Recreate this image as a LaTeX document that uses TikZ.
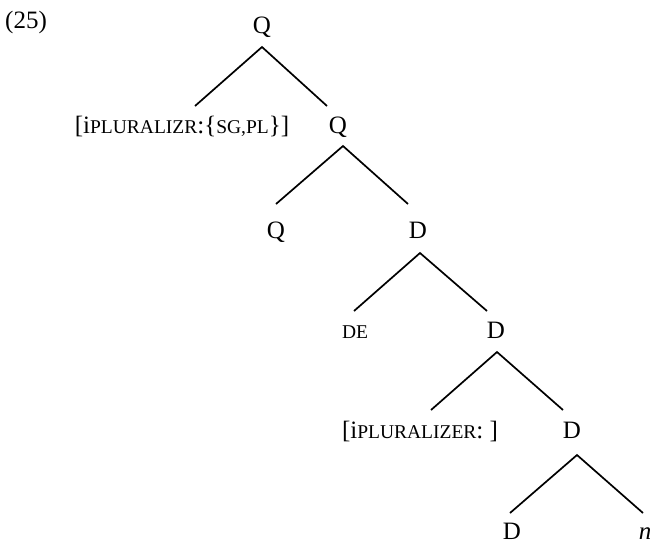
\documentclass[tikz,border=0pt]{standalone}
\usepackage{fontspec}
\setmainfont{Liberation Serif}
\usetikzlibrary{calc}
\newcommand\smcap[1]{{\fontsize{19.5}{22}\selectfont #1}}
\begin{document}
\begin{tikzpicture}[x=1pt,y=-1pt,
  lab/.style={inner sep=0pt, anchor=base, font=\fontsize{25}{30}\selectfont},
  br/.style={line width=1.7pt}]
\useasboundingbox (0,0) rectangle (650,542);
\node[lab] (ex) at (26,28) {(25)};
\node[lab] (Q0) at (262,33) {Q};
\node[lab] (F1) at (182,133) {[i\smcap{PLURALIZR}:\{\smcap{SG,PL}\}]};
\node[lab] (Q1) at (338,133) {Q};
\node[lab] (Q2) at (276,238) {Q};
\node[lab] (D1) at (418,238) {D};
\node[lab] (DE) at (355,338) {\smcap{DE}};
\node[lab] (D2) at (496,338) {D};
\node[lab] (F2) at (420,438) {[i\smcap{PLURALIZER}: ]};
\node[lab] (D3) at (572,438) {D};
\node[lab] (D4) at (512,539) {D};
\node[lab] (N) at (645,539) {\textit{n}};
\draw[br] ($(F1.base)+(13,-27)$) -- ($(Q0.base)+(0,14)$) -- ($(Q1.base)+(-11,-27)$);
\draw[br] ($(Q2.base)+(0,-34)$) -- ($(Q1.base)+(5,13)$) -- ($(D1.base)+(-10,-34)$);
\draw[br] ($(DE.base)+(-1,-27)$) -- ($(D1.base)+(2,15)$) -- ($(D2.base)+(-9,-27)$);
\draw[br] ($(F2.base)+(11,-28)$) -- ($(D2.base)+(1,14)$) -- ($(D3.base)+(-9,-28)$);
\draw[br] ($(D4.base)+(-2,-26)$) -- ($(D3.base)+(5,17)$) -- ($(N.base)+(-2,-26)$);
\end{tikzpicture}
\end{document}
